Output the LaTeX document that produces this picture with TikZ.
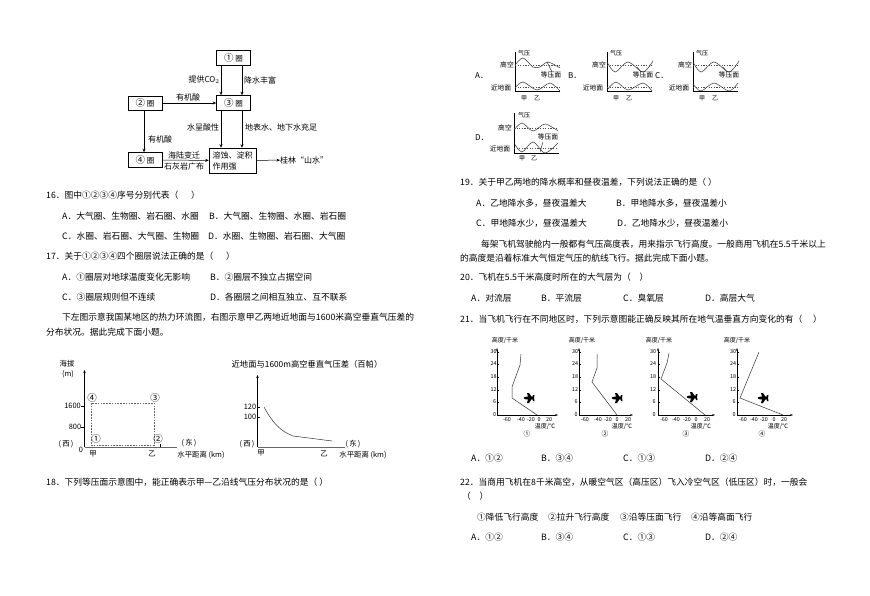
\documentclass[tikz,border=0pt]{standalone}
\usepackage{fontspec}
\setmainfont{Noto Sans CJK SC}
\usetikzlibrary{arrows.meta}
\tikzset{
 t/.style={anchor=west,inner sep=0pt,font=\fontsize{8.75}{9}\selectfont},
 l/.style={inner sep=0pt,font=\fontsize{8}{9}\selectfont},
 s/.style={inner sep=0pt,font=\fontsize{7.4}{8}\selectfont},
 iso/.style={inner sep=0pt,font=\fontsize{6.8}{7}\selectfont},
 tiny/.style={inner sep=0pt,font=\fontsize{6}{7}\selectfont},
 xt/.style={inner sep=0pt,font=\fontsize{5.4}{6}\selectfont},
 box/.style={draw,line width=.6pt,inner sep=0pt,font=\fontsize{8}{9}\selectfont},
 arr/.style={-{Stealth[length=3.5pt,width=3pt]},line width=.5pt},
 ax/.style={line width=.6pt},
 gax/.style={line width=.8pt,black!60},
 dsh/.style={dashed,dash pattern=on 1.6pt off 1.2pt,line width=.4pt,black!60},
 dt/.style={line width=.25pt,dash pattern=on 1.2pt off 1.4pt,black!70},
 cv/.style={line width=.5pt,black!80},
 tipa/.style={-{Stealth[length=3pt,width=2.2pt]},ax}
}
\newcommand{\plane}[2]{\fill (#1-5.5,#2) -- (#1-4,#2-1.2) -- (#1-1,#2-1.4) -- (#1-2,#2-5) -- (#1,#2-5) -- (#1+2.5,#2-1.4) -- (#1+3.5,#2-1.3) -- (#1+4,#2-3) -- (#1+5.5,#2-3) -- (#1+5,#2) -- (#1+5.5,#2+3) -- (#1+4,#2+3) -- (#1+3.5,#2+1.3) -- (#1+2.5,#2+1.4) -- (#1,#2+5) -- (#1-2,#2+5) -- (#1-1,#2+1.4) -- (#1-4,#2+1.2) -- cycle;}
% axis x, end x, title x, tick label x
\newcommand{\tempaxes}[4]{%
 \draw[tipa] (#1,415) -- (#1,348);
 \draw[tipa] (#1,415) -- (#2,415);
 \draw[line width=.3pt] (#1,352) -- (#1+1.5,352) (#1,364) -- (#1+1.5,364) (#1,377) -- (#1+1.5,377) (#1,390) -- (#1+1.5,390) (#1,402) -- (#1+1.5,402);
 \node[tiny] at (#3,341) {高度/千米};
 \node[xt] at (#4,352) {30}; \node[xt] at (#4,364) {24}; \node[xt] at (#4,377) {18};
 \node[xt] at (#4,390) {12}; \node[xt] at (#4+1,402) {6}; \node[xt] at (#4+1,415) {0};
}
\newcommand{\tempx}[5]{%
 \node[xt] at (#1,419.5) {-60}; \node[xt] at (#2,419.5) {-40}; \node[xt] at (#3,419.5) {-20};
 \node[xt] at (#4,419.5) {0}; \node[xt] at (#5,419.5) {20};
}
\newcommand{\tempcap}[3]{%
 \node[tiny] at (#1,426) {温度/℃}; \node[iso] at (#2,434) {#3};
}
\newcommand{\isolabels}[1]{%
 \draw[ax] (#1,52) -- (#1,91) -- (#1+45,91);
 \draw[dt] (#1,65) -- (#1+46,65) (#1,87) -- (#1+46,87);
 \node[tiny] at (#1+9,53) {气压};
 \node[iso] at (#1-8,65) {高空};
 \node[iso] at (#1-14,88) {近地面};
 \node[tiny] at (#1+9,98) {甲};
 \node[tiny] at (#1+22,98) {乙};
}
\begin{document}
\begin{tikzpicture}[x=1pt,y=-1pt]
\useasboundingbox[fill=white] (0,0) rectangle (870,596);
% flow chart
\node[box,minimum width=34pt,minimum height=14.5pt] (q1) at (233.5,58) {\fontsize{9.5}{9}\selectfont ①\,\fontsize{7.5}{9}\selectfont 圈};
\node[box,minimum width=34pt,minimum height=15pt] (q3) at (233.5,103) {\fontsize{9.5}{9}\selectfont ③\,\fontsize{7.5}{9}\selectfont 圈};
\node[box,minimum width=34pt,minimum height=14pt] (q2) at (145,103) {\fontsize{9.5}{9}\selectfont ②\,\fontsize{7.5}{9}\selectfont 圈};
\node[box,minimum width=34pt,minimum height=15pt] (q4) at (145,160) {\fontsize{9.5}{9}\selectfont ④\,\fontsize{7.5}{9}\selectfont 圈};
\node[draw,line width=.6pt,minimum width=47pt,minimum height=25pt,inner sep=2.5pt,align=left,font=\fontsize{8}{11}\selectfont] (r) at (232.5,160.5) {溶蚀、淀积\\作用强};
\node[l,anchor=west] (res) at (280,160) {桂林“山水”};
\coordinate (a1) at (221,65); \coordinate (b1) at (242,65); \coordinate (c1) at (144,110);
\draw[arr] (q1.south -| a1) -- (q3.north -| a1);
\draw[arr] (q1.south -| b1) -- (q3.north -| b1);
\draw[arr] (q2) -- (q3);
\draw[arr] (q2.south -| c1) -- (q4.north -| c1);
\draw[arr] (q3.south -| a1) -- (r.north -| a1);
\draw[arr] (q3.south -| b1) -- (r.north -| b1);
\draw[arr] (q4) -- (r);
\draw[arr] (r) -- (res);
\node[l] (n1) at (204,80) {提供CO$_2$};
\node[l] (n2) at (260,80) {降水丰富};
\node[l] (n3) at (188,97) {有机酸};
\node[l] (n4) at (203,127) {水呈酸性};
\node[l,anchor=west] (n5) at (245,127) {地表水、地下水充足};
\node[l] (n6) at (160,139) {有机酸};
\node[l] (n7) at (184,155) {海陆变迁};
\node[l] (n8) at (184,166) {石灰岩广布};
% left text
\node[t] (t1) at (46,195) {16．图中①②③④序号分别代表（\quad\ \ ）};
\node[t] (t2) at (62,216) {A．大气圈、生物圈、岩石圈、水圈};
\node[t] (t3) at (209,216) {B．大气圈、生物圈、水圈、岩石圈};
\node[t] (t4) at (62,236) {C．水圈、岩石圈、大气圈、生物圈};
\node[t] (t5) at (208,236) {D．水圈、生物圈、岩石圈、大气圈};
\node[t] (t6) at (46,256) {17．关于①②③④四个圈层说法正确的是（\quad\ \ ）};
\node[t] (t7) at (62,277) {A．①圈层对地球温度变化无影响};
\node[t] (t8) at (210,277) {B．②圈层不独立占据空间};
\node[t] (t9) at (62,297) {C．③圈层规则但不连续};
\node[t] (t10) at (210,297) {D．各圈层之间相互独立、互不联系};
\node[t] (t11) at (62,317) {下左图示意我国某地区的热力环流图，右图示意甲乙两地近地面与1600米高空垂直气压差的};
\node[t] (t12) at (46,332) {分布状况。据此完成下面小题。};
\node[t] (t13) at (46,482) {18．下列等压面示意图中，能正确表示甲—乙沿线气压分布状况的是（ ）};
% left chart
\draw[ax,-{Stealth[length=3pt,width=2.5pt]}] (84.5,447) -- (84.5,370);
\draw[gax] (84.5,447) -- (177,447);
\draw[line width=.4pt] (84.5,406) -- (81,406) (84.5,427) -- (81,427) (160,447) -- (160,444);
\draw[dsh] (91,445) -- (154,445) -- (154,403) -- (91,403) -- cycle;
\node[s] at (67,364) {海拔};
\node[s] at (68,374) {(m)};
\node[s] at (72.5,406) {1600};
\node[s] at (75,427) {800};
\node[s] at (81,450) {0};
\node[s] at (66,444) {(\,西\,)};
\node[s] at (189,443) {(\,东\,)};
\node[s] at (93,454) {甲};
\node[s] at (152,454) {乙};
\node[s] at (201,455) {水平距离 (km)};
\node[l,font=\fontsize{9.5}{9}\selectfont] at (92,398) {④};
\node[l,font=\fontsize{9.5}{9}\selectfont] at (155,398) {③};
\node[l,font=\fontsize{9.5}{9}\selectfont] at (96,439) {①};
\node[l,font=\fontsize{9.5}{9}\selectfont] at (158,439) {②};
% right chart
\node[s,font=\fontsize{8.3}{9}\selectfont] at (307,364) {近地面与1600m高空垂直气压差（百帕）};
\draw[ax,-{Stealth[length=3pt,width=2.5pt]}] (257.5,447) -- (257.5,375);
\draw[gax] (257.5,447) -- (345,447);
\draw[line width=.4pt] (257.5,407) -- (260,407) (257.5,417) -- (260,417);
\node[s] at (250,407) {120};
\node[s] at (250,417) {100};
\node[s] at (247,444) {(\,西\,)};
\node[s] at (353,444) {(\,东\,)};
\node[s] at (261,453) {甲};
\node[s] at (324,454) {乙};
\node[s] at (363,455) {水平距离 (km)};
\draw[cv] (264,407) .. controls (272,422) and (280,431) .. (293,436) -- (332,441);
% isobar diagrams
% A
\isolabels{515}
\draw[cv] plot[smooth] coordinates {(515,65) (523,58) (533,67) (540,67) (548,62) (560,68)};
\draw[cv] plot[smooth] coordinates {(515,88) (523,82) (537,90) (550,83) (560,91)};
\draw[cv] (547,62) -- (552,72);
\node[iso] at (551,75) {等压面};
\node[l,anchor=west] at (475,76) {A．};
% B
\isolabels{607}
\draw[cv] plot[smooth] coordinates {(607,62) (615,72) (628,62) (643,72) (653,61)};
\draw[cv] plot[smooth] coordinates {(607,90) (616,82) (628,90) (643,83) (652,91)};
\draw[cv] (637,67) -- (641,72);
\node[iso] at (643,75) {等压面};
\node[l,anchor=west] at (568,76) {B．};
% C
\isolabels{693}
\draw[cv] plot[smooth] coordinates {(693,62) (701,72) (714,62) (729,72) (739,61)};
\draw[cv] plot[smooth] coordinates {(693,84) (701,91) (714,83) (729,91) (738,83)};
\draw[cv] (723,67) -- (727,72);
\node[iso] at (729,75) {等压面};
\node[l,anchor=west] at (655,76) {C．};
% D
\draw[ax] (514,113) -- (514,153) -- (559,153);
\draw[dt] (514,128) -- (558,128) (514,148) -- (558,148);
\draw[cv] plot[smooth] coordinates {(514,130) (522,123) (533,131) (545,124) (558,131)};
\draw[cv] plot[smooth] coordinates {(514,143) (522,152) (533,142) (545,153) (558,143)};
\draw[cv] (543,142) -- (540,152);
\node[tiny] at (524,115) {气压};
\node[iso] at (505,128) {高空};
\node[iso] at (500,149) {近地面};
\node[iso] at (548,137) {等压面};
\node[tiny] at (522,158) {甲};
\node[tiny] at (534,158) {乙};
\node[l,anchor=west] at (475,138) {D．};
% right text
\node[t] (u1) at (460,182) {19．关于甲乙两地的降水概率和昼夜温差，下列说法正确的是（ ）};
\node[t] (u2) at (476,203) {A．乙地降水多，昼夜温差大};
\node[t] (u3) at (616,203) {B．甲地降水多，昼夜温差小};
\node[t] (u4) at (476,223) {C．甲地降水少，昼夜温差大};
\node[t] (u5) at (617,223) {D．乙地降水少，昼夜温差小};
\node[t] (u6) at (481,244) {每架飞机驾驶舱内一般都有气压高度表，用来指示飞行高度。一般商用飞机在5.5千米以上};
\node[t] (u7) at (460,258) {的高度是沿着标准大气恒定气压的航线飞行。据此完成下面小题。};
\node[t] (u8) at (460,277) {20．飞机在5.5千米高度时所在的大气层为（\quad ）};
\node[t] (u9) at (471,298) {A．对流层};
\node[t] (u10) at (541,298) {B．平流层};
\node[t] (u11) at (623,298) {C．臭氧层};
\node[t] (u12) at (705,298) {D．高层大气};
\node[t] (u13) at (460,319) {21．当飞机飞行在不同地区时，下列示意图能正确反映其所在地气温垂直方向变化的有（\quad\ ）};
% temperature charts
\tempaxes{497}{558}{505}{493.5}
\tempx{507}{521}{531}{539}{549}
\tempcap{545}{527}{①}
\draw[cv] (521,354) -- (520,365) -- (512,387) -- (512,398) -- (537,415);
\plane{529}{398}
\tempaxes{579}{633}{582}{575}
\tempx{585}{598}{608}{617}{628}
\tempcap{622}{605}{②}
\draw[cv] (597,354) -- (597,368) -- (592,382) -- (617,415);
\plane{617}{398}
\tempaxes{658}{715}{659}{653}
\tempx{664}{676}{687}{696}{707}
\tempcap{701}{686}{③}
\draw[cv] (669,353) -- (667,363) -- (661,379) -- (705,415);
\plane{692}{397}
\tempaxes{737}{793}{737}{733}
\tempx{743}{754}{764}{774}{784}
\tempcap{778}{762}{④}
\draw[cv] (759,352) -- (740,398) -- (783,415);
\plane{763}{398}
% bottom text
\node[t] (v1) at (471,458) {A．①②};
\node[t] (v2) at (541,458) {B．③④};
\node[t] (v3) at (623,458) {C．①③};
\node[t] (v4) at (705,458) {D．②④};
\node[t] (v5) at (460,482) {22．当商用飞机在8千米高空，从暖空气区（高压区）飞入冷空气区（低压区）时，一般会};
\node[t] (v6) at (462,496) {（\quad ）};
\node[t] (v7) at (477,517) {①降低飞行高度};
\node[t] (v8) at (548,517) {②拉升飞行高度};
\node[t] (v9) at (620,517) {③沿等压面飞行};
\node[t] (v10) at (691,517) {④沿等高面飞行};
\node[t] (v11) at (471,537) {A．①②};
\node[t] (v12) at (541,537) {B．③④};
\node[t] (v13) at (623,537) {C．①③};
\node[t] (v14) at (705,537) {D．②④};
\end{tikzpicture}
\end{document}
